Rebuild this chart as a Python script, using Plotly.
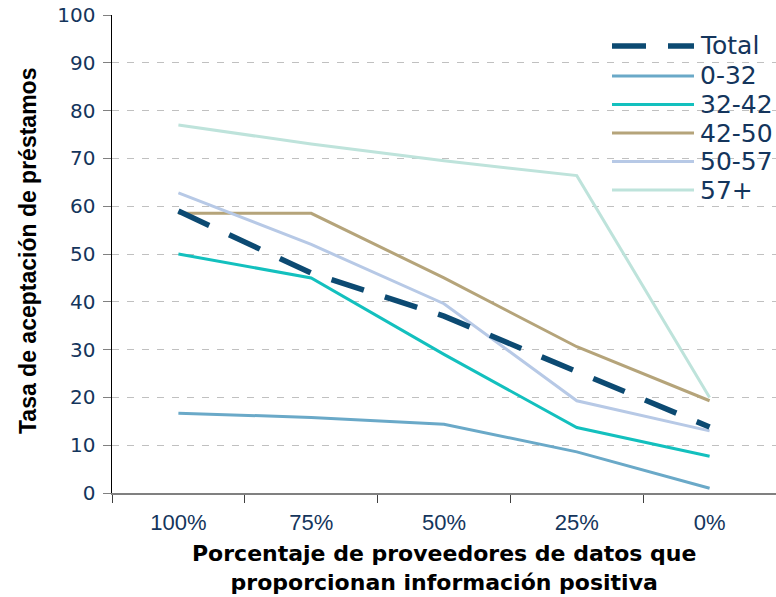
import plotly.graph_objects as go

categories = ["100%", "75%", "50%", "25%", "0%"]
series_names = ["Total", "0-32", "32-42", "42-50", "50-57", "57+"]
total = [59, 46, 37, 25.5, 13.8]
s_0_32 = [16.7, 15.8, 14.4, 8.6, 1.0]
s_32_42 = [50, 45, 29, 13.7, 7.7]
s_42_50 = [58.5, 58.5, 45, 30.6, 19.3]
s_50_57 = [62.8, 52, 39.6, 19.3, 13.0]
s_57p = [77, 73, 69.5, 66.4, 20]
y_ticks = [0, 10, 20, 30, 40, 50, 60, 70, 80, 90, 100]

values = [total, s_0_32, s_32_42, s_42_50, s_50_57, s_57p]
colors = ["#0C4A72", "#6AA9C8", "#13C0BE", "#B5A47A", "#B7C9E6", "#BEE3DB"]
widths = [5.5, 3, 3, 3, 3, 3]
dashes = ["34px,22px", "solid", "solid", "solid", "solid", "solid"]

W, H = 776, 597
L, R, T, B = 112, 0, 15, 104
pw, ph = W - L - R, H - T - B

fig = go.Figure()
order = [1, 2, 3, 4, 5, 0]
for i in order:
    fig.add_trace(go.Scatter(
        x=categories, y=values[i], name=series_names[i], mode="lines",
        line=dict(color=colors[i], width=widths[i], dash=dashes[i]),
        showlegend=False, hoverinfo="skip"))

def px_x(p):
    return (p - L) / pw

def px_y(p):
    return (H - B - p) / ph

shapes = []
annotations = []
row_y = [46, 76, 104.5, 133, 161.5, 190]
for i, name in enumerate(series_names):
    yy = px_y(row_y[i])
    shapes.append(dict(type="line", xref="paper", yref="paper",
                       x0=px_x(612), x1=px_x(694), y0=yy, y1=yy,
                       line=dict(color=colors[i], width=widths[i],
                                 dash=("34px,22px" if i == 0 else "solid"))))
    annotations.append(dict(xref="paper", yref="paper", x=px_x(698), y=yy,
                            text=name, showarrow=False, xanchor="left", yanchor="middle",
                            font=dict(family="DejaVu Sans", size=25, color="#14355C")))

annotations.append(dict(xref="paper", yref="paper", x=px_x(444), y=px_y(567.5),
                        text="<b>Porcentaje de proveedores de datos que<br>proporcionan información positiva</b>",
                        showarrow=False, xanchor="center", yanchor="middle",
                        font=dict(family="DejaVu Sans", size=22, color="#000000")))
annotations.append(dict(xref="paper", yref="paper", x=px_x(28), y=px_y(251),
                        text="<b>Tasa de aceptación de préstamos</b>", textangle=-90,
                        showarrow=False, xanchor="center", yanchor="middle",
                        font=dict(family="Liberation Sans", size=23, color="#000000")))

fig.update_layout(
    width=W, height=H,
    margin=dict(l=L, r=R, t=T, b=B, autoexpand=False),
    plot_bgcolor="white", paper_bgcolor="white",
    shapes=shapes, annotations=annotations,
    showlegend=False,
)
fig.update_xaxes(
    type="category", range=[-0.5, 4.5],
    showline=True, linecolor="#808080", linewidth=1.5,
    ticks="outside", tickson="boundaries", ticklen=8, tickcolor="#404040",
    showgrid=False, ticklabelstandoff=9,
    tickfont=dict(family="Liberation Sans", size=22, color="#14355C"),
)
fig.update_yaxes(
    range=[0, 100], tickvals=y_ticks,
    showline=True, linecolor="#000000", linewidth=1.5,
    ticks="outside", ticklen=8, tickcolor="#808080",
    showgrid=True, gridcolor="#C0C0C0", griddash="7px,8px", gridwidth=1,
    zeroline=False, ticklabelstandoff=3,
    tickfont=dict(family="DejaVu Sans", size=20, color="#14355C"),
)

page_css = ("document.body.style.margin='0';"
            "document.body.style.overflow='hidden';"
            "document.documentElement.style.overflow='hidden';")
fig.write_html("out.html", post_script=page_css,
               config={"displayModeBar": False, "staticPlot": True})
